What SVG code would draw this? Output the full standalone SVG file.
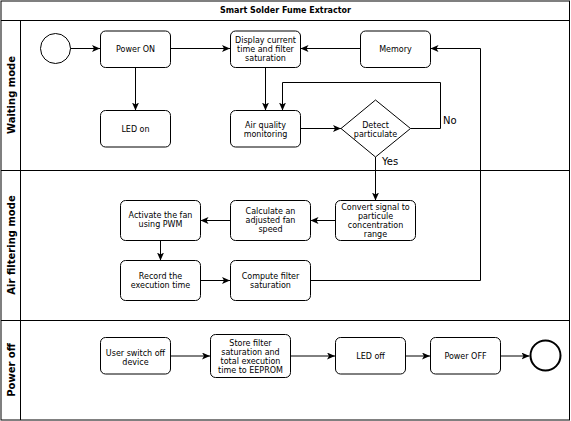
<svg xmlns="http://www.w3.org/2000/svg" width="571" height="421" viewBox="0 0 571 421">
<style>
.frame{fill:#fff;stroke:#000;stroke-width:1}
.box{fill:#fff;stroke:#000;stroke-width:1}
.t{font-family:"DejaVu Sans",Verdana,sans-serif;font-size:8px;fill:#000;text-anchor:middle}
.lane{font-family:"DejaVu Sans",Verdana,sans-serif;font-size:10px;font-weight:bold;fill:#000;text-anchor:middle}
.title{font-family:"DejaVu Sans",Verdana,sans-serif;font-size:8px;font-weight:bold;fill:#000;text-anchor:middle}
.lbl{font-family:"DejaVu Sans",Verdana,sans-serif;font-size:10px;fill:#000}
.c{fill:none;stroke:#000;stroke-width:1;marker-end:url(#arr)}
</style>
<defs>
<marker id="arr" markerUnits="userSpaceOnUse" markerWidth="10" markerHeight="8" refX="8" refY="3.5" orient="auto">
<path d="M0,0 L8,3.5 L0,7 L2,3.5 Z" fill="#000"/>
</marker>
</defs>
<g id="pool">
<rect class="frame" x="1" y="1" width="568.5" height="419"/>
<line x1="1" y1="20.5" x2="569.5" y2="20.5" stroke="#000"/>
<line x1="1" y1="170.5" x2="569.5" y2="170.5" stroke="#000"/>
<line x1="1" y1="320.5" x2="569.5" y2="320.5" stroke="#000"/>
<line x1="20.5" y1="20.5" x2="20.5" y2="420" stroke="#000"/>
<text class="title" x="285.5" y="13">Smart Solder Fume Extractor</text>
<text class="lane" transform="translate(14.5,95) rotate(-90)">Waiting mode</text>
<text class="lane" transform="translate(14.5,245) rotate(-90)">Air filtering mode</text>
<text class="lane" transform="translate(14.5,370) rotate(-90)">Power off</text>
</g>
<g id="connectors">
<line class="c" x1="70" y1="48.5" x2="100" y2="48.5"/>
<line class="c" x1="170.5" y1="48.5" x2="230" y2="48.5"/>
<line class="c" x1="360" y1="48.5" x2="300.5" y2="48.5"/>
<line class="c" x1="135.5" y1="67.5" x2="135.5" y2="110.5"/>
<line class="c" x1="265.5" y1="67.5" x2="265.5" y2="110.5"/>
<line class="c" x1="300.5" y1="128.5" x2="341" y2="128.5"/>
<polyline class="c" points="410.5,128.5 440.5,128.5 440.5,82.5 282.5,82.5 282.5,110.5"/>
<line class="c" x1="375.5" y1="157" x2="375.5" y2="200.5"/>
<line class="c" x1="335" y1="220.5" x2="310.5" y2="220.5"/>
<line class="c" x1="230" y1="220.5" x2="200.5" y2="220.5"/>
<line class="c" x1="160.5" y1="240.5" x2="160.5" y2="260.5"/>
<line class="c" x1="200.5" y1="280.5" x2="230" y2="280.5"/>
<polyline class="c" points="310.5,280.5 480.5,280.5 480.5,48.5 430.5,48.5"/>
<line class="c" x1="170.5" y1="356" x2="210" y2="356"/>
<line class="c" x1="290.5" y1="356" x2="335" y2="356"/>
<line class="c" x1="405.5" y1="356" x2="430" y2="356"/>
<line class="c" x1="500.5" y1="356" x2="529.5" y2="356"/>
<text class="lbl" x="443" y="124">No</text>
<text class="lbl" x="382" y="165">Yes</text>
</g>
<g id="start"><circle cx="55.5" cy="48.5" r="15" fill="#fff" stroke="#000"/></g>
<g id="power-on"><rect class="box" x="100.5" y="31" width="70" height="36.5" rx="5"/><text class="t" x="135.5" y="52">Power ON</text></g>
<g id="display"><rect class="box" x="230.5" y="31" width="70" height="36.5" rx="5"/><text class="t" x="265.5" y="43">Display current</text><text class="t" x="265.5" y="52">time and filter</text><text class="t" x="265.5" y="61">saturation</text></g>
<g id="memory"><rect class="box" x="360.5" y="31" width="70" height="36.5" rx="5"/><text class="t" x="395.5" y="52">Memory</text></g>
<g id="led-on"><rect class="box" x="100.5" y="110.5" width="70" height="36.5" rx="5"/><text class="t" x="135.5" y="131.5">LED on</text></g>
<g id="air-quality"><rect class="box" x="230.5" y="110.5" width="70" height="36.5" rx="5"/><text class="t" x="265.5" y="128">Air quality</text><text class="t" x="265.5" y="137">monitoring</text></g>
<g id="detect"><polygon points="375.5,100 410.5,128.5 375.5,157 341,128.5" fill="#fff" stroke="#000"/><text class="t" x="375.5" y="128">Detect</text><text class="t" x="375.5" y="137">particulate</text></g>
<g id="convert"><rect class="box" x="335.5" y="200.5" width="80" height="40" rx="5"/><text class="t" x="375.5" y="209.5">Convert signal to</text><text class="t" x="375.5" y="218.5">particule</text><text class="t" x="375.5" y="227.5">concentration</text><text class="t" x="375.5" y="236.5">range</text></g>
<g id="calculate"><rect class="box" x="230.5" y="200.5" width="80" height="40" rx="5"/><text class="t" x="270.5" y="213.5">Calculate an</text><text class="t" x="270.5" y="222.5">adjusted fan</text><text class="t" x="270.5" y="231.5">speed</text></g>
<g id="activate"><rect class="box" x="120.5" y="200.5" width="80" height="40" rx="5"/><text class="t" x="160.5" y="218">Activate the fan</text><text class="t" x="160.5" y="227">using PWM</text></g>
<g id="record"><rect class="box" x="120.5" y="260.5" width="80" height="40" rx="5"/><text class="t" x="160.5" y="278.5">Record the</text><text class="t" x="160.5" y="287.5">execution time</text></g>
<g id="compute"><rect class="box" x="230.5" y="260.5" width="80" height="40" rx="5"/><text class="t" x="270.5" y="278.5">Compute filter</text><text class="t" x="270.5" y="287.5">saturation</text></g>
<g id="user-switch"><rect class="box" x="100.5" y="337.5" width="70" height="36.5" rx="5"/><text class="t" x="135.5" y="355.5">User switch off</text><text class="t" x="135.5" y="364.5">device</text></g>
<g id="store"><rect class="box" x="210.5" y="334.5" width="80" height="43" rx="5"/><text class="t" x="250.5" y="346">Store filter</text><text class="t" x="250.5" y="355">saturation and</text><text class="t" x="250.5" y="364">total execution</text><text class="t" x="250.5" y="373">time to EEPROM</text></g>
<g id="led-off"><rect class="box" x="335.5" y="337.5" width="70" height="36.5" rx="5"/><text class="t" x="370.5" y="359">LED off</text></g>
<g id="power-off"><rect class="box" x="430.5" y="337.5" width="70" height="36.5" rx="5"/><text class="t" x="465.5" y="359">Power OFF</text></g>
<g id="end"><circle cx="545.5" cy="355.5" r="15" fill="#fff" stroke="#000" stroke-width="2"/></g>
</svg>
